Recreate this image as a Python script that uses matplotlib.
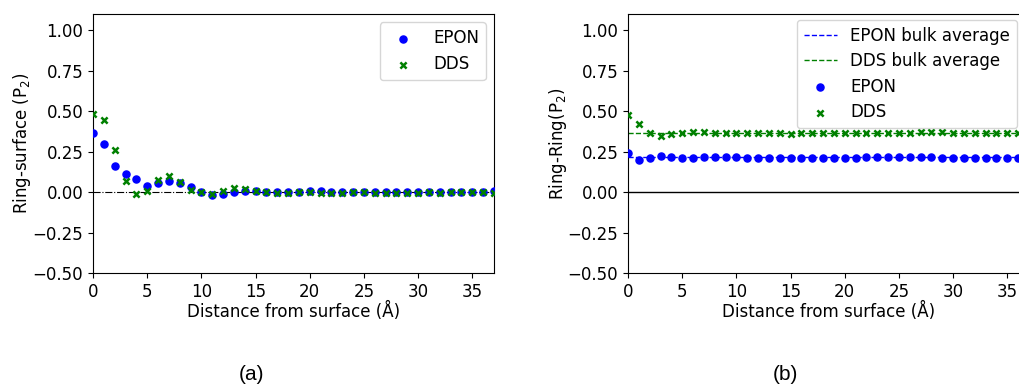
import matplotlib.pyplot as plt
import numpy as np

# distance from surface (A), one bin per angstrom
dist = np.arange(0, 38)

# Ring-surface P2
epon_rs = [0.365, 0.294, 0.161, 0.112, 0.079, 0.035, 0.054, 0.068, 0.056, 0.029,
           -0.002, -0.017, -0.010, 0.000, 0.006, 0.006, 0.002, 0.000, 0.000, 0.000,
           0.004, 0.006, 0.002, 0.002, 0.000, 0.002, 0.002, 0.002, 0.000, -0.002,
           -0.002, 0.000, 0.002, 0.002, 0.000, -0.002, 0.002, 0.004]
dds_rs = [0.480, 0.443, 0.259, 0.068, -0.015, 0.004, 0.075, 0.097, 0.060, 0.014,
          -0.002, -0.010, 0.004, 0.023, 0.018, 0.006, -0.002, -0.006, -0.004, -0.002,
          0.000, -0.004, -0.006, -0.004, -0.002, -0.002, -0.004, -0.006, -0.004, -0.006,
          -0.004, -0.002, -0.004, 0.000, 0.000, -0.002, -0.002, -0.004]

# Ring-Ring P2
epon_rr = [0.242, 0.199, 0.211, 0.224, 0.217, 0.211, 0.213, 0.215, 0.215, 0.219,
           0.215, 0.211, 0.209, 0.211, 0.209, 0.209, 0.211, 0.211, 0.211, 0.211,
           0.213, 0.213, 0.215, 0.215, 0.215, 0.217, 0.217, 0.215, 0.217, 0.213,
           0.213, 0.213, 0.213, 0.211, 0.211, 0.211, 0.211, 0.211]
dds_rr = [0.474, 0.420, 0.362, 0.345, 0.360, 0.364, 0.370, 0.370, 0.366, 0.364,
          0.364, 0.364, 0.364, 0.362, 0.362, 0.360, 0.362, 0.362, 0.362, 0.364,
          0.364, 0.364, 0.364, 0.364, 0.366, 0.364, 0.366, 0.368, 0.370, 0.368,
          0.366, 0.364, 0.364, 0.364, 0.364, 0.364, 0.362, 0.362]
epon_bulk = 0.215
dds_bulk = 0.366

plt.rcParams['font.size'] = 12

fig = plt.figure(figsize=(10.19, 3.88), dpi=100)
W, H = 1019, 388
ax1 = fig.add_axes([93 / W, 1 - 273 / H, 401 / W, 259 / H])
ax2 = fig.add_axes([628 / W, 1 - 273 / H, 401 / W, 259 / H])

# (a) ring-surface
ax1.scatter(dist, epon_rs, s=26, color='blue', marker='o', label='EPON', zorder=3)
ax1.scatter(dist, dds_rs, s=20, color='green', marker='x', linewidths=1.8, label='DDS', zorder=3)
ax1.axhline(0, color='black', linestyle='-.', linewidth=0.8)
ax1.set_xlim(0, 37)
ax1.set_ylim(-0.5, 1.1)
ax1.set_yticks(np.arange(-0.5, 1.01, 0.25))
ax1.set_xticks(np.arange(0, 36, 5))
ax1.set_xlabel('Distance from surface (Å)', labelpad=1)
ax1.set_ylabel(r'Ring-surface (P$_2$)', labelpad=0)
ax1.legend(loc='upper right')

# (b) ring-ring
ax2.plot(dist, np.full(len(dist), epon_bulk), '--', color='blue', linewidth=1, label='EPON bulk average')
ax2.plot(dist, np.full(len(dist), dds_bulk), '--', color='green', linewidth=1, label='DDS bulk average')
ax2.scatter(dist, epon_rr, s=26, color='blue', marker='o', label='EPON', zorder=3)
ax2.scatter(dist, dds_rr, s=20, color='green', marker='x', linewidths=1.8, label='DDS', zorder=3)
ax2.axhline(0, color='black', linewidth=1)
ax2.set_xlim(0, 37)
ax2.set_ylim(-0.5, 1.1)
ax2.set_yticks(np.arange(-0.5, 1.01, 0.25))
ax2.set_xticks(np.arange(0, 36, 5))
ax2.set_xlabel('Distance from surface (Å)', labelpad=1)
ax2.set_ylabel(r'Ring-Ring$(\mathrm{P}_2)$', labelpad=-1)
ax2.legend(loc='upper right', bbox_to_anchor=(1017 / W, 1 - 20 / H),
           bbox_transform=fig.transFigure, borderaxespad=0, labelspacing=0.45)

fig.text(252 / W, 1 - 375 / H, '(a)', ha='center', va='center', fontsize=15, family='Liberation Sans')
fig.text(785 / W, 1 - 375 / H, '(b)', ha='center', va='center', fontsize=15, family='Liberation Sans')

fig.savefig('out.png', dpi=100)
